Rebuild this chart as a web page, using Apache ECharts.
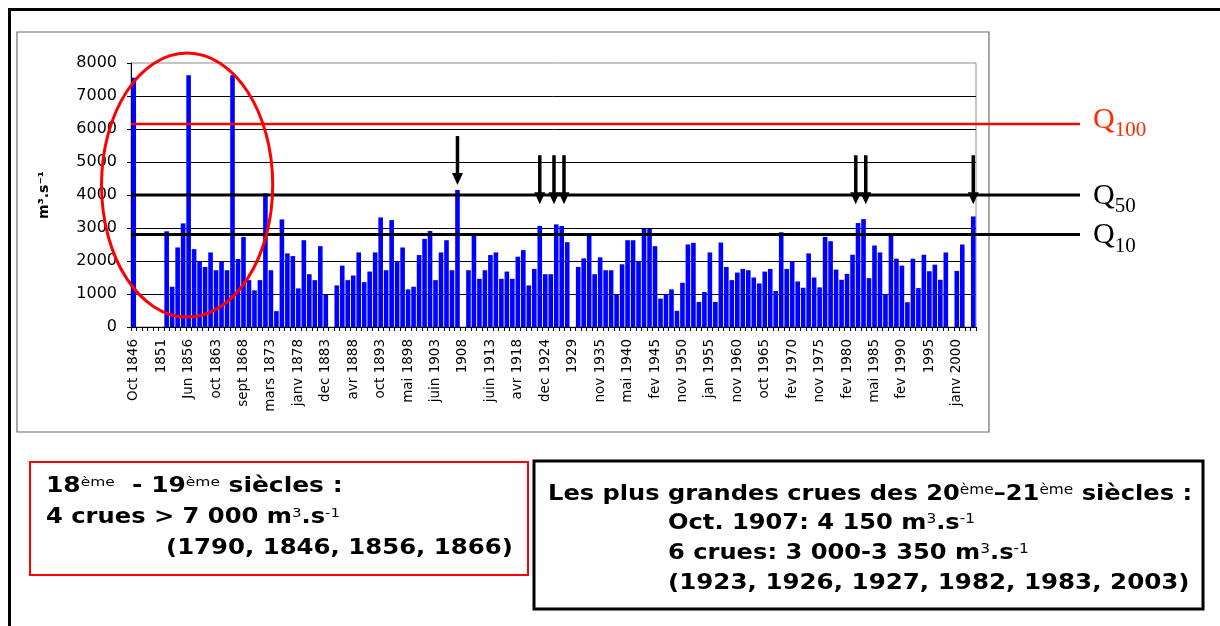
<!DOCTYPE html>
<html>
<head>
<meta charset="utf-8">
<script src="https://cdn.jsdelivr.net/npm/echarts@6/dist/echarts.min.js"></script>
<style>
  html, body { margin: 0; padding: 0; background: #ffffff; }
  #chart { width: 1220px; height: 626px; }
</style>
</head>
<body>
<div id="chart"></div>
<script>
// Dates shown under every fifth flood event
const tickLabels = [
  'Oct 1846', '1851', 'Jun 1856', 'oct 1863', 'sept 1868', 'mars 1873', 'janv 1878',
  'dec 1883', 'avr 1888', 'oct 1893', 'mai 1898', 'juin 1903', '1908', 'juin 1913',
  'avr 1918', 'dec 1924', '1929', 'nov 1935', 'mai 1940', 'fev 1945', 'nov 1950',
  'jan 1955', 'nov 1960', 'oct 1965', 'fev 1970', 'nov 1975', 'fev 1980', 'mai 1985',
  'fev 1990', '1995', 'janv 2000'
];

// Peak discharge of each flood event (m3/s), null where no value is recorded
const peakFlows = [
  7550, null, null, null, null, null, 2900, 1220, 2410, 3140,
  7630, 2360, 1990, 1820, 2260, 1720, 1980, 1720, 7630, 2060,
  2730, 1420, 1110, 1420, 4050, 1720, 480, 3260, 2230, 2150,
  1170, 2630, 1600, 1420, 2450, 980, null, 1260, 1860, 1420,
  1560, 2260, 1360, 1680, 2260, 3320, 1720, 3240, 1990, 2410,
  1140, 1220, 2180, 2670, 2910, 1420, 2260, 2630, 1720, 4150,
  null, 1720, 2840, 1460, 1720, 2180, 2260, 1460, 1680, 1460,
  2130, 2330, 1260, 1760, 3060, 1600, 1600, 3110, 3060, 2570,
  null, 1820, 2080, 2840, 1600, 2110, 1720, 1720, 980, 1900,
  2630, 2630, 1990, 2970, 2970, 2450, 860, 980, 1140, 490,
  1340, 2500, 2550, 760, 1060, 2260, 760, 2560, 1820, 1420,
  1650, 1760, 1720, 1500, 1320, 1680, 1760, 1090, 2870, 1760,
  1990, 1380, 1190, 2230, 1500, 1200, 2730, 2600, 1740, 1430,
  1610, 2190, 3150, 3270, 1480, 2470, 2260, 1000, 2850, 2070,
  1860, 750, 2070, 1180, 2190, 1690, 1890, 1430, 2260, null,
  1700, 2500, null, 3350
];

// Return-period discharges (m3/s)
const quantileNames = ['100', '50', '10'];
const quantileFlows = [6150, 4000, 2800];

// Events singled out with an arrow: 1907, 1923, 1926, 1927, 1982, 1983, 2003
const arrowEvents = [59, 74, 77, 78, 132, 133, 153];

// Event around which the 18th-19th century giant floods are circled
const earlyGroup = { center: 10, halfSpan: 15.6, low: 300, high: 8300 };

const categories = peakFlows.map((_, i) => String(i));

const chart = echarts.init(document.getElementById('chart'), null, { renderer: 'canvas' });

const axisFont = '"DejaVu Sans", Verdana, sans-serif';

chart.setOption({
  animation: false,
  backgroundColor: '#ffffff',
  grid: {
    left: 131, right: 244, top: 63, bottom: 299,
    show: true, borderColor: '#8c8c8c', borderWidth: 1, backgroundColor: 'transparent'
  },
  xAxis: {
    type: 'category',
    data: categories,
    boundaryGap: true,
    axisLine: { lineStyle: { color: '#000', width: 1 } },
    axisTick: { show: true, interval: 0, length: 4, lineStyle: { color: '#000' } },
    axisLabel: {
      interval: 4,
      rotate: 90,
      margin: 12,
      fontFamily: axisFont,
      fontSize: 13.5,
      color: '#000',
      formatter: (v, i) => tickLabels[Math.round(i / 5)] || ''
    },
    splitLine: { show: false }
  },
  yAxis: {
    type: 'value',
    min: 0, max: 8000, interval: 1000,
    axisLine: { show: true, lineStyle: { color: '#000', width: 1 } },
    axisTick: { show: true, length: 4, lineStyle: { color: '#000' } },
    axisLabel: { fontFamily: axisFont, fontSize: 16, color: '#000', margin: 14, formatter: v => String(v) },
    splitLine: { show: true, showMaxLine: false, lineStyle: { color: '#000', width: 1 } },
    name: 'm³.s⁻¹',
    nameLocation: 'middle',
    nameRotate: 90,
    nameGap: 80,
    nameTextStyle: { fontFamily: axisFont, fontSize: 14, fontWeight: 'bold', color: '#000' }
  },
  series: [{
    type: 'bar',
    data: peakFlows,
    barCategoryGap: '16%',
    itemStyle: { color: '#0000ff' },
    z: 2
  }]
});

// Annotations placed through the axes' own scales
function px(index, value) {
  return chart.convertToPixel({ xAxisIndex: 0, yAxisIndex: 0 }, [index, value]);
}

const gridRect = chart.getModel().getComponent('grid').coordinateSystem.getRect();
const lineEnd = gridRect.x + gridRect.width + 104;
const step = px(1, 0)[0] - px(0, 0)[0];
const graphics = [];

// Frame of the figure and of the plot panel
graphics.push({
  type: 'rect', z: 0, silent: true,
  shape: { x: 17, y: 32, width: 972, height: 400 },
  style: { fill: 'none', stroke: '#6e6e6e', lineWidth: 1.2 }
});
graphics.push({
  type: 'polyline', z: 0, silent: true,
  shape: { points: [[9.5, 626], [9.5, 9.5], [1220, 9.5]] },
  style: { fill: 'none', stroke: '#000', lineWidth: 3 }
});

// Return-period lines and their labels
const qStyles = [
  { stroke: '#ff0000', width: 2.5, text: '#ff2a00', lift: 19 },
  { stroke: '#000000', width: 3, text: '#000000', lift: 14 },
  { stroke: '#000000', width: 3, text: '#000000', lift: 14 }
];
quantileFlows.forEach((q, k) => {
  const y = px(0, q)[1];
  const st = qStyles[k];
  graphics.push({
    type: 'line', z: 50, silent: true,
    shape: { x1: gridRect.x, y1: y, x2: lineEnd, y2: y },
    style: { stroke: st.stroke, lineWidth: st.width }
  });
  graphics.push({
    type: 'text', z: 50, silent: true,
    x: lineEnd + 13, y: y - st.lift,
    style: {
      text: '{q|Q}{s|' + quantileNames[k] + '}',
      fill: st.text,
      rich: {
        q: { fontFamily: '"Liberation Serif", "Times New Roman", serif', fontSize: 30, fill: st.text, verticalAlign: 'top' },
        s: { fontFamily: '"Liberation Serif", "Times New Roman", serif', fontSize: 21, fill: st.text, verticalAlign: 'bottom', padding: [15, 0, 0, 0] }
      }
    }
  });
});

// Ellipse around the early giant floods
{
  const cx = px(earlyGroup.center, 0)[0] - 1.5;
  const yTop = px(0, earlyGroup.high)[1];
  const yBot = px(0, earlyGroup.low)[1];
  graphics.push({
    type: 'ellipse', z: 60, silent: true,
    shape: { cx: cx, cy: (yTop + yBot) / 2, rx: earlyGroup.halfSpan * step, ry: (yBot - yTop) / 2 },
    style: { fill: 'none', stroke: '#ff0000', lineWidth: 3 }
  });
}

// Arrows above the largest recent floods; arrows of consecutive events are spread apart
arrowEvents.forEach((i, k) => {
  const [cx, barTop] = px(i, peakFlows[i]);
  let x = cx;
  if (arrowEvents[k + 1] === i + 1) x = cx - (10 - step) / 2;
  if (arrowEvents[k - 1] === i - 1) x = cx + (10 - step) / 2;
  const tip = Math.min(px(0, 3720)[1], barTop - 5);
  const top = tip - 49;
  graphics.push({
    type: 'line', z: 70, silent: true,
    shape: { x1: x, y1: top, x2: x, y2: tip - 9 },
    style: { stroke: '#000', lineWidth: 3.5 }
  });
  graphics.push({
    type: 'polygon', z: 70, silent: true,
    shape: { points: [[x - 5.5, tip - 12], [x + 5.5, tip - 12], [x, tip]] },
    style: { fill: '#000' }
  });
});

// Summary boxes
const boxFamily = '"DejaVu Sans Condensed", "DejaVu Sans", Verdana, sans-serif';
function boxRich(size) {
  return {
    t: { fontFamily: boxFamily, fontWeight: 'bold', fontSize: size, fill: '#000' },
    sup: { fontFamily: boxFamily, fontWeight: 'normal', fontSize: Math.round(size * 0.62), fill: '#000', verticalAlign: 'top' }
  };
}
function boxLine(x, y, text, size, stretch) {
  graphics.push({
    type: 'text', z: 80, silent: true, x: x, y: y, scaleX: stretch,
    style: { text: text, rich: boxRich(size), verticalAlign: 'middle' }
  });
}
graphics.push({
  type: 'rect', z: 80, silent: true,
  shape: { x: 30, y: 462, width: 498, height: 113 },
  style: { fill: '#fff', stroke: '#ff0000', lineWidth: 2 }
});
graphics.push({
  type: 'rect', z: 80, silent: true,
  shape: { x: 534, y: 461, width: 669, height: 148 },
  style: { fill: '#fff', stroke: '#000', lineWidth: 3 }
});
boxLine(46, 487, '{t|18}{sup|ème}{t|  - 19}{sup|ème}{t| siècles :}', 21, 1.32);
boxLine(46, 518, '{t|4 crues > 7 000 m}{sup|3}{t|.s}{sup|-1}', 21, 1.28);
boxLine(166, 549, '{t|(1790, 1846, 1856, 1866)}', 21, 1.29);
boxLine(548, 494, '{t|Les plus grandes crues des 20}{sup|ème}{t|–21}{sup|ème}{t| siècles :}', 22, 1.22);
boxLine(668, 523, '{t|Oct. 1907: 4 150 m}{sup|3}{t|.s}{sup|-1}', 22, 1.22);
boxLine(668, 553, '{t|6 crues: 3 000-3 350 m}{sup|3}{t|.s}{sup|-1}', 22, 1.22);
boxLine(668, 583, '{t|(1923, 1926, 1927, 1982, 1983, 2003)}', 22, 1.24);

chart.setOption({ graphic: graphics });
</script>
</body>
</html>
